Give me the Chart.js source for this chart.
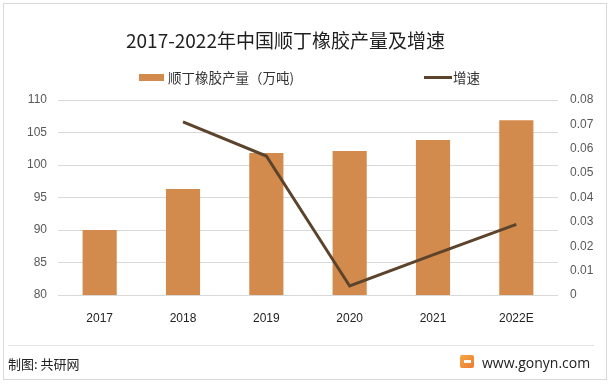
<!DOCTYPE html>
<html>
<head>
<meta charset="utf-8">
<script src="https://cdn.jsdelivr.net/npm/chart.js@4/dist/chart.umd.min.js"></script>
<style>
  html, body { margin: 0; padding: 0; background: #fff; }
  #wrap { position: relative; width: 612px; height: 385px; overflow: hidden; font-family: "Noto Sans CJK SC", "Noto Sans", sans-serif; }
  #frame { position: absolute; left: 3px; top: 3px; width: 604px; height: 377px; border: 1px solid #d9d9d9; box-sizing: border-box; }
  #chart { position: absolute; left: 0; top: 0; }
  .title { position: absolute; left: 126px; top: 26px; font-size: 19px; color: #1f1f1f; white-space: nowrap; }
  .lg { position: absolute; font-size: 13.5px; color: #333; white-space: nowrap; line-height: 16px; }
  .lg-bar { position: absolute; left: 139px; top: 74px; width: 25px; height: 7px; background: #d38b4d; }
  .lg-line { position: absolute; left: 424px; top: 76px; width: 28px; height: 3px; background: #5c432c; }
  .foot-line { position: absolute; left: 8px; top: 345px; width: 586px; height: 1px; background: #e3e3e3; }
  .foot-l { position: absolute; left: 8px; top: 354px; font-size: 13px; color: #222; }
  .foot-r { position: absolute; left: 482px; top: 353px; font-size: 14px; color: #222; font-family: "Open Sans", "Noto Sans", sans-serif; }
  .icon { position: absolute; left: 460px; top: 355px; width: 14px; height: 13px; background: linear-gradient(135deg, #f4a640, #ee7a33); border-radius: 2px; }
  .icon:after { content: ""; position: absolute; left: 4px; top: 5px; width: 7px; height: 3px; background: #fff; }
</style>
</head>
<body>
<div id="wrap">
  <div id="frame"></div>
  <canvas id="chart" width="612" height="385"></canvas>
  <div class="title">2017-2022年中国顺丁橡胶产量及增速</div>
  <div class="lg-bar"></div>
  <div class="lg" style="left:168px; top:69px;">顺丁橡胶产量（万吨)</div>
  <div class="lg-line"></div>
  <div class="lg" style="left:453px; top:69px;">增速</div>
  <div class="foot-line"></div>
  <div class="foot-l">制图: 共研网</div>
  <div class="icon"></div>
  <div class="foot-r">www.gonyn.com</div>
</div>
<script>
const years = ['2017', '2018', '2019', '2020', '2021', '2022E'];
const output = [90, 96.3, 101.85, 102.15, 103.85, 106.9];
const growth = [null, 0.071, 0.057, 0.0037, 0.0165, 0.029];

const tickFont = {family: 'Liberation Sans', size: 12};

const ctx = document.getElementById('chart').getContext('2d');
new Chart(ctx, {
  data: {
    labels: years,
    datasets: [
      {
        type: 'line',
        label: '增速',
        data: growth,
        yAxisID: 'y1',
        borderColor: '#5c432c',
        borderWidth: 3,
        pointRadius: 0,
        tension: 0,
        order: 0,
      },
      {
        type: 'bar',
        label: '顺丁橡胶产量（万吨)',
        data: output,
        yAxisID: 'y',
        backgroundColor: '#d38b4d',
        categoryPercentage: 1,
        barPercentage: 0.41,
        order: 1,
      },
    ],
  },
  options: {
    responsive: false,
    animation: false,
    layout: {padding: {top: 100, left: 0, right: 6, bottom: 60}},
    plugins: {
      legend: {display: false},
      title: {display: false},
      tooltip: {enabled: false},
    },
    scales: {
      x: {
        grid: {display: false},
        border: {display: false},
        ticks: {color: '#222', font: tickFont, padding: 8},
        afterFit: function(axis) { axis.height = 30; },
      },
      y: {
        position: 'left',
        min: 80,
        max: 110,
        ticks: {stepSize: 5, color: '#595959', font: tickFont, padding: 11},
        grid: {color: '#d9d9d9', drawTicks: false},
        border: {display: false},
        afterFit: function(axis) { axis.width = 58; },
      },
      y1: {
        position: 'right',
        min: 0,
        max: 0.08,
        ticks: {
          stepSize: 0.01,
          color: '#595959',
          font: tickFont,
          padding: 12,
          callback: function(v) { return v === 0 ? '0' : v.toFixed(2); },
        },
        grid: {display: false, drawTicks: false},
        border: {display: false},
        afterFit: function(axis) { axis.width = 48; },
      },
    },
  },
});
</script>
</body>
</html>
